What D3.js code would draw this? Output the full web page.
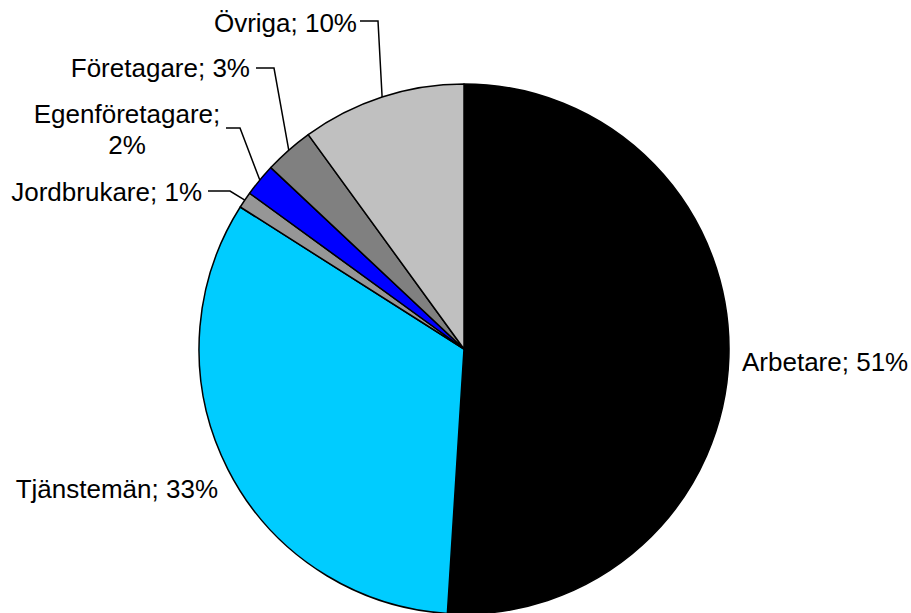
<!DOCTYPE html>
<html><head><meta charset="utf-8">
<script src="https://cdn.jsdelivr.net/npm/d3@7"></script>
<style>
html,body{margin:0;padding:0;background:#fff;}
svg{display:block;}
text{font-family:"Liberation Sans",Arial,Helvetica,sans-serif;font-size:26px;fill:#000;}
</style></head>
<body>
<svg id="chart" width="911" height="613"></svg>
<script>
const categories = ["Arbetare","Tjänstemän","Jordbrukare","Egenföretagare","Företagare","Övriga"];
const values = [51, 33, 1, 2, 3, 10];
const colors = ["#000000","#00CCFF","#969696","#0000FF","#808080","#C0C0C0"];

const W = 911, H = 613;
const cx = 464, cy = 349, R = 265;
const svg = d3.select("#chart");
const g = svg.append("g").attr("transform", `translate(${cx},${cy})`);

const pie = d3.pie().sort(null).value(d => d.v);
const data = pie(categories.map((c,i)=>({c, v: values[i], col: colors[i]})));
const arc = d3.arc().innerRadius(0).outerRadius(R);

g.selectAll("path.slice").data(data).enter().append("path")
  .attr("class","slice")
  .attr("d", arc)
  .attr("fill", d => d.data.col)
  .attr("stroke", "#000")
  .attr("stroke-width", 1.5)
  .attr("stroke-linejoin","round");

const layout = {
  "Arbetare":      {x: 742, y: 371, anchor: "start", lines: ["Arbetare; 51%"]},
  "Tjänstemän":    {x: 218, y: 498, anchor: "end", lines: ["Tjänstemän; 33%"]},
  "Jordbrukare":   {x: 202, y: 201, anchor: "end", lines: ["Jordbrukare; 1%"], elbow:[230,191], lx:208},
  "Egenföretagare":{x: 127, y: 123, anchor: "middle", lines: ["Egenföretagare;","2%"], elbow:[240,128], lx:226},
  "Företagare":    {x: 250, y: 77, anchor: "end", lines: ["Företagare; 3%"], elbow:[274,68], lx:256},
  "Övriga":        {x: 357, y: 32, anchor: "end", lines: ["Övriga; 10%"], elbow:[378,21], lx:360}
};

data.forEach(d => {
  const L = layout[d.data.c];
  const t = svg.append("text").attr("x", L.x).attr("y", L.y).attr("text-anchor", L.anchor);
  L.lines.forEach((s,i) => {
    t.append("tspan").attr("x", L.x).attr("dy", i===0 ? 0 : 31).text(s);
  });
  if (L.elbow) {
    const a = (d.startAngle + d.endAngle)/2;
    const px = cx + R*Math.sin(a), py = cy - R*Math.cos(a);
    svg.append("path")
      .attr("d", `M${L.lx},${L.elbow[1]}L${L.elbow[0]},${L.elbow[1]}L${px},${py}`)
      .attr("fill","none").attr("stroke","#000").attr("stroke-width",1.5);
  }
});
</script>
</body></html>
